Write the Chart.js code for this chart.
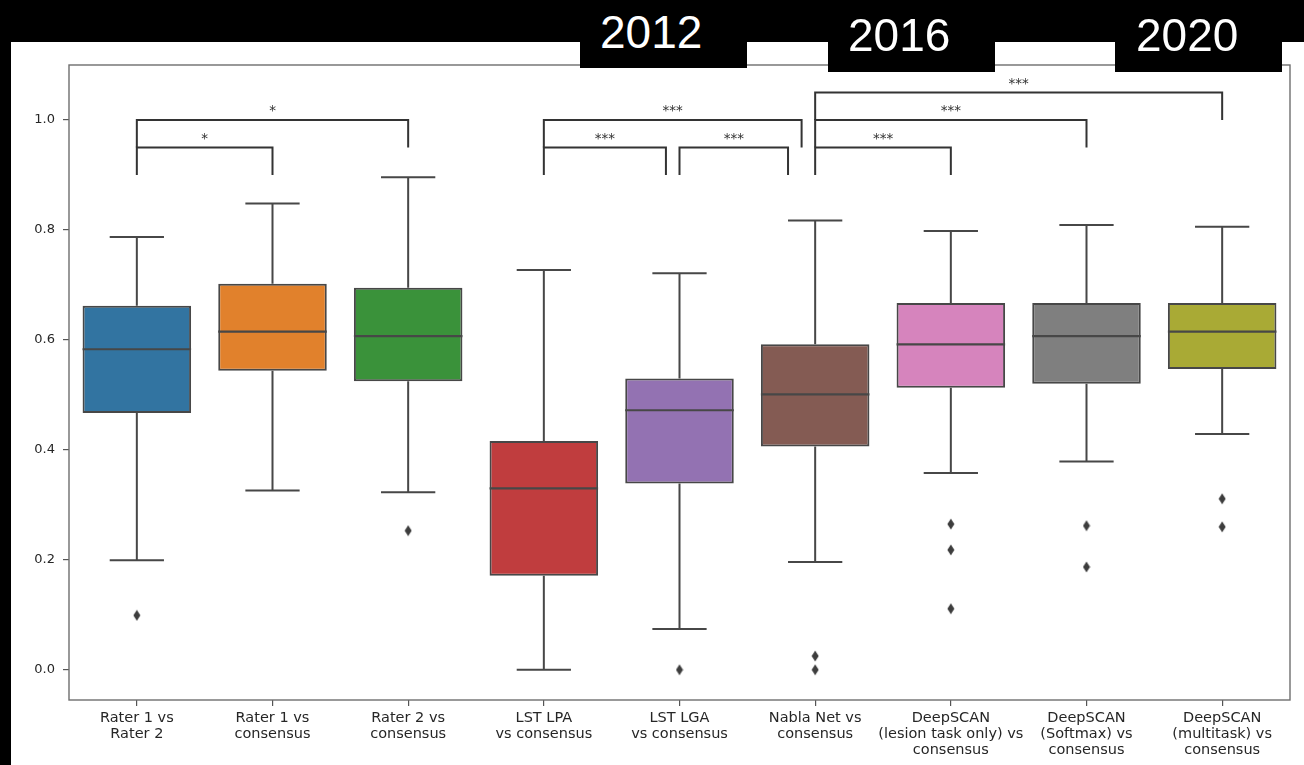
<!DOCTYPE html>
<html>
<head>
<meta charset="utf-8">
<script src="https://cdn.jsdelivr.net/npm/chart.js@4.4.1/dist/chart.umd.min.js"></script>
<style>
  html, body { margin: 0; padding: 0; }
  body { width: 1304px; height: 765px; background: #000; position: relative; overflow: hidden; }
  #panel { position: absolute; left: 11px; top: 42px; right: 0; bottom: 0; background: #fff; }
  #chart { position: absolute; left: 0; top: 0; }
  .year { position: absolute; top: 0; background: #000; z-index: 5; }
  .year span { position: absolute; color: #fff; font-family: "Liberation Sans", Arial, sans-serif;
               font-size: 46px; line-height: 46px; white-space: nowrap; }
</style>
</head>
<body>
<div id="panel"></div>
<canvas id="chart" width="1304" height="765"></canvas>
<div class="year" style="left:580px;width:167px;height:68px"><span style="left:20px;top:9px">2012</span></div>
<div class="year" style="left:828px;width:167px;height:72px"><span style="left:20px;top:12px">2016</span></div>
<div class="year" style="left:1115px;width:167px;height:72px"><span style="left:21px;top:12px">2020</span></div>
<script>
// Dice agreement per comparison (box plot summary values)
const categories = [
  ['Rater 1 vs', 'Rater 2'],
  ['Rater 1 vs', 'consensus'],
  ['Rater 2 vs', 'consensus'],
  ['LST LPA', 'vs consensus'],
  ['LST LGA', 'vs consensus'],
  ['Nabla Net vs', 'consensus'],
  ['DeepSCAN', '(lesion task only) vs', 'consensus'],
  ['DeepSCAN', '(Softmax) vs', 'consensus'],
  ['DeepSCAN', '(multitask) vs', 'consensus']
];
const whiskerLow  = [0.199, 0.326, 0.323, 0.000, 0.074, 0.196, 0.358, 0.379, 0.429];
const q1          = [0.467, 0.544, 0.525, 0.171, 0.339, 0.406, 0.513, 0.520, 0.547];
const median      = [0.583, 0.615, 0.607, 0.330, 0.472, 0.501, 0.592, 0.607, 0.615];
const q3          = [0.662, 0.702, 0.695, 0.416, 0.530, 0.592, 0.667, 0.667, 0.667];
const whiskerHigh = [0.787, 0.848, 0.896, 0.727, 0.721, 0.817, 0.798, 0.809, 0.806];
const outliers = [
  [0.099], [], [0.253], [], [0.000], [0.025, 0.000],
  [0.265, 0.218, 0.111], [0.262, 0.187], [0.311, 0.260]
];
const yTicks = [0.0, 0.2, 0.4, 0.6, 0.8, 1.0];

// Significance brackets: category span, base level, label
const bracketFrom  = [0, 0, 3, 4, 3, 5, 5, 5];
const bracketTo    = [1, 2, 3.9, 4.8, 4.9, 6, 7, 8];
const bracketBase  = [0.90, 0.95, 0.90, 0.90, 0.95, 0.90, 0.95, 1.00];
const bracketLabel = ['*', '*', '***', '***', '***', '***', '***', '***'];
const bracketRise = 0.05;

const boxColors = ['#3274a1', '#e1812c', '#3a923a', '#c03d3e', '#9372b2',
                   '#845b53', '#d684bd', '#7f7f7f', '#a9aa35'];
const LINE = '#474747';
const FONT = 'DejaVu Sans';

Chart.defaults.font.family = FONT;

// thin diamond marker for outliers
const diamond = document.createElement('canvas');
diamond.width = 8; diamond.height = 12;
(() => {
  const d = diamond.getContext('2d');
  d.fillStyle = '#3d3d3d';
  d.beginPath();
  d.moveTo(4, 0.5); d.lineTo(7.5, 6); d.lineTo(4, 11.5); d.lineTo(0.5, 6);
  d.closePath(); d.fill();
})();

const outlierPoints = outliers.flatMap((vals, i) => vals.map(v => ({ x: i, y: v })));

const boxParts = {
  id: 'boxParts',
  beforeDatasetsDraw(chart) {
    const { ctx, scales: { x, y } } = chart;
    const bars = chart.getDatasetMeta(0).data;
    ctx.save();
    ctx.strokeStyle = LINE;
    ctx.lineWidth = 2;
    bars.forEach((bar, i) => {
      const cx = x.getPixelForValue(i);
      const half = bar.width / 4;
      const yHi = y.getPixelForValue(whiskerHigh[i]);
      const yLo = y.getPixelForValue(whiskerLow[i]);
      ctx.beginPath();
      ctx.moveTo(cx, y.getPixelForValue(q3[i])); ctx.lineTo(cx, yHi);
      ctx.moveTo(cx - half, yHi); ctx.lineTo(cx + half, yHi);
      ctx.moveTo(cx, y.getPixelForValue(q1[i])); ctx.lineTo(cx, yLo);
      ctx.moveTo(cx - half, yLo); ctx.lineTo(cx + half, yLo);
      ctx.stroke();
    });
    ctx.restore();
  },
  afterDatasetsDraw(chart) {
    const { ctx, scales: { y } } = chart;
    const bars = chart.getDatasetMeta(0).data;
    ctx.save();
    ctx.strokeStyle = LINE;
    ctx.lineWidth = 2.2;
    bars.forEach((bar, i) => {
      const ym = y.getPixelForValue(median[i]);
      ctx.beginPath();
      ctx.moveTo(bar.x - bar.width / 2, ym);
      ctx.lineTo(bar.x + bar.width / 2, ym);
      ctx.stroke();
    });
    ctx.restore();
  },
  afterDraw(chart) {
    const { ctx, chartArea: a, scales: { x, y } } = chart;
    ctx.save();
    // axes frame
    ctx.strokeStyle = '#6e6e6e';
    ctx.lineWidth = 1.4;
    ctx.strokeRect(a.left, a.top, a.right - a.left, a.bottom - a.top);
    // significance brackets
    ctx.strokeStyle = '#333';
    ctx.lineWidth = 2;
    ctx.fillStyle = '#333';
    ctx.font = '13.5px "' + FONT + '"';
    ctx.textAlign = 'center';
    ctx.textBaseline = 'alphabetic';
    bracketFrom.forEach((f, k) => {
      const x1 = x.getPixelForValue(f);
      const x2 = x.getPixelForValue(bracketTo[k]);
      const y0 = y.getPixelForValue(bracketBase[k]);
      const y1 = y.getPixelForValue(bracketBase[k] + bracketRise);
      ctx.beginPath();
      ctx.moveTo(x1, y0); ctx.lineTo(x1, y1); ctx.lineTo(x2, y1); ctx.lineTo(x2, y0);
      ctx.stroke();
      ctx.fillText(bracketLabel[k], (x1 + x2) / 2, y1 - 4.5);
    });
    ctx.restore();
  }
};

new Chart(document.getElementById('chart'), {
  type: 'bar',
  data: {
    datasets: [
      {
        type: 'bar',
        data: categories.map((_, i) => ({ x: i, y: [q1[i], q3[i]] })),
        backgroundColor: boxColors,
        borderColor: LINE,
        borderWidth: 2,
        borderSkipped: false,
        barPercentage: 0.8,
        categoryPercentage: 1.0,
        order: 2
      },
      {
        type: 'line',
        data: outlierPoints,
        showLine: false,
        pointStyle: diamond,
        pointRadius: 6,
        order: 1
      }
    ]
  },
  plugins: [boxParts],
  options: {
    responsive: false,
    animation: false,
    devicePixelRatio: 1,
    layout: { padding: { left: 11, top: 65, right: 14, bottom: 0 } },
    plugins: { legend: { display: false }, tooltip: { enabled: false } },
    scales: {
      x: {
        type: 'linear',
        min: -0.5,
        max: 8.5,
        offset: false,
        afterBuildTicks: s => { s.ticks = categories.map((_, i) => ({ value: i })); },
        afterFit: s => { s.height = 65; },
        grid: { offset: false, drawOnChartArea: false, tickLength: 6, color: '#555', lineWidth: 1.2 },
        border: { display: false },
        ticks: {
          autoSkip: false,
          maxRotation: 0,
          padding: 4,
          color: '#262626',
          font: { family: FONT, size: 14.5, lineHeight: 1.1 },
          callback: v => categories[v]
        }
      },
      y: {
        type: 'linear',
        min: -0.055,
        max: 1.1,
        afterBuildTicks: s => { s.ticks = yTicks.map(v => ({ value: v })); },
        afterFit: s => { s.width = 58; },
        grid: { drawOnChartArea: false, tickLength: 6, color: '#555', lineWidth: 1.2 },
        border: { display: false },
        ticks: {
          padding: 8,
          color: '#262626',
          font: { family: FONT, size: 13 },
          callback: v => v.toFixed(1)
        }
      }
    }
  }
});
</script>
</body>
</html>
